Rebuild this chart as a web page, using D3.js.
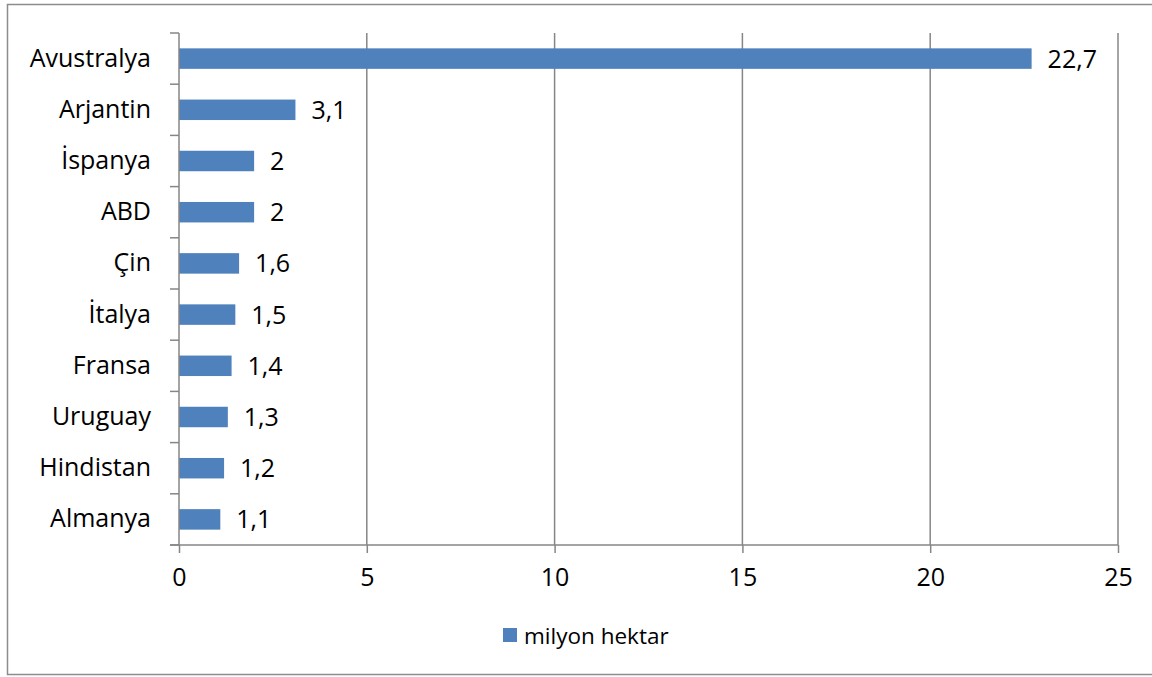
<!DOCTYPE html>
<html>
<head>
<meta charset="utf-8">
<script src="https://cdn.jsdelivr.net/npm/d3@7"></script>
<style>
  body { margin: 0; background: #fff; }
  text { font-family: "Open Sans", sans-serif; fill: #000; }
</style>
</head>
<body>
<div id="chart"></div>
<script>
// data
var countries = ["Avustralya", "Arjantin", "İspanya", "ABD", "Çin", "İtalya", "Fransa", "Uruguay", "Hindistan", "Almanya"];
var values = [22.7, 3.1, 2, 2, 1.6, 1.5, 1.4, 1.3, 1.2, 1.1];
var xTicks = [0, 5, 10, 15, 20, 25];
var seriesName = "milyon hektar";

var W = 1152, H = 677;
var margin = {top: 33, right: 34, bottom: 132, left: 179},
    width = W - margin.left - margin.right,
    height = H - margin.top - margin.bottom;

var svg = d3.select("#chart").append("svg")
    .attr("width", W)
    .attr("height", H);

// outer border
svg.append("rect")
    .attr("x", 7.5).attr("y", 4.5)
    .attr("width", W).attr("height", 670)
    .attr("fill", "none")
    .attr("stroke", "#8c8c8c")
    .attr("stroke-width", 1.5);

var g = svg.append("g")
    .attr("transform", "translate(" + margin.left + "," + margin.top + ")");

var x = d3.scaleLinear().domain([0, 25]).range([0, width]);
var y = d3.scaleBand().domain(countries).range([0, height]).paddingInner(0.6).paddingOuter(0.3);
var yb = d3.scaleBand().domain(countries).range([0, height]);

// gridlines
g.selectAll(".grid")
  .data(xTicks.slice(1))
  .enter().append("line")
    .attr("x1", function(d) { return x(d); })
    .attr("x2", function(d) { return x(d); })
    .attr("y1", 0).attr("y2", height)
    .attr("stroke", "#868686")
    .attr("stroke-width", 1.5);

// bars
g.selectAll(".bar")
  .data(values)
  .enter().append("rect")
    .attr("x", x(0))
    .attr("y", function(d, i) { return y(countries[i]); })
    .attr("width", function(d) { return x(d) - x(0); })
    .attr("height", y.bandwidth())
    .attr("fill", "#4f81bd");

// value labels
g.selectAll(".lbl")
  .data(values)
  .enter().append("text")
    .attr("x", function(d) { return x(d) + 16; })
    .attr("y", function(d, i) { return y(countries[i]) + y.bandwidth() / 2; })
    .attr("dy", "0.36em")
    .style("font-size", "25px")
    .text(function(d) { return String(d).replace(".", ","); });

// y axis
var yAxis = g.append("g")
    .call(d3.axisLeft(yb).tickSize(0).tickPadding(28));
yAxis.select(".domain").remove();
yAxis.selectAll("text").style("font-size", "25px").attr("font-family", null);

g.append("line")
    .attr("x1", 0).attr("x2", 0).attr("y1", 0).attr("y2", height)
    .attr("stroke", "#868686").attr("stroke-width", 1.5);
g.selectAll(".ytick")
  .data(countries.concat(["end"]))
  .enter().append("line")
    .attr("x1", -9).attr("x2", 0)
    .attr("y1", function(d, i) { return i * yb.step(); })
    .attr("y2", function(d, i) { return i * yb.step(); })
    .attr("stroke", "#868686").attr("stroke-width", 1.5);

// x axis
var xAxis = g.append("g")
    .attr("transform", "translate(0," + height + ")")
    .call(d3.axisBottom(x).tickValues(xTicks).tickSize(8).tickPadding(15).tickFormat(d3.format("d")));
xAxis.select(".domain").remove();
xAxis.selectAll("line").attr("stroke", "#868686").attr("stroke-width", 1.5);
xAxis.selectAll("text").style("font-size", "25px").attr("font-family", null);
g.append("line")
    .attr("x1", -9).attr("x2", width).attr("y1", height).attr("y2", height)
    .attr("stroke", "#868686").attr("stroke-width", 1.5);

// legend
svg.append("rect")
    .attr("x", 503).attr("y", 628)
    .attr("width", 14).attr("height", 14)
    .attr("fill", "#4f81bd");
svg.append("text")
    .attr("x", 524).attr("y", 636)
    .attr("dy", "0.36em")
    .style("font-size", "22.5px")
    .text(seriesName);
</script>
</body>
</html>
